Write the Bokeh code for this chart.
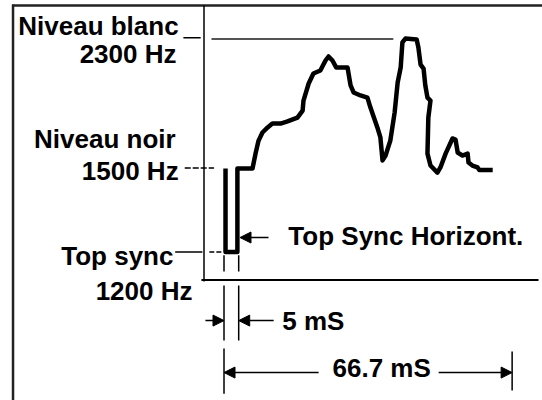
from bokeh.plotting import figure
from bokeh.models import Range1d, ColumnDataSource, Arrow, NormalHead
from bokeh.core.properties import value
from bokeh.embed import file_html
from bokeh.resources import INLINE

# ---------------- data (time in ms from start of sync, level in % : 0 = sync, 100 = white)
signal_t = [0.35, 0.35, 3.1, 3.1, 6.6, 7.3, 8.0, 8.9, 10.1, 11.2, 13.1, 14.7, 17.0, 18.2,
            18.4, 19.6, 20.7, 22.3, 23.5, 24.2, 25.1, 26.0, 28.6, 29.3, 30.0, 31.6, 33.2,
            33.9, 35.5, 36.2, 36.7, 37.4, 38.5, 39.5, 40.2, 40.9, 41.3, 42.0, 44.6, 45.0,
            45.5, 46.2, 46.6, 47.1, 47.8, 47.3, 47.1, 47.8, 49.4, 50.1, 51.3, 52.9, 53.6,
            54.1, 55.2, 56.4, 56.6, 57.5, 58.7, 59.1, 62.2]
signal_level = [39.2, 0.0, 0.0, 39.2, 39.2, 46.2, 52.3, 56.1, 58.5, 60.3, 60.3, 61.3, 63.1, 66.4,
                71.1, 79.1, 83.8, 85.2, 89.9, 91.8, 89.9, 86.6, 86.6, 78.2, 74.9, 73.5, 72.5,
                67.8, 58.5, 53.8, 43.0, 45.3, 52.3, 65.5, 79.6, 86.6, 98.4, 100.2, 99.8, 96.0,
                88.0, 86.1, 78.2, 72.5, 71.1, 63.1, 46.2, 40.6, 37.3, 39.7, 46.2, 53.3, 52.8,
                46.7, 45.3, 46.2, 42.0, 40.6, 39.7, 38.5, 38.5]

level_names = ["Niveau blanc", "Niveau noir", "Top sync"]
level_freqs = ["2300 Hz", "1500 Hz", "1200 Hz"]
white_level = 100.0
black_level = 39.4
sync_level = 0.0
sync_end_ms = 3.4
line_period_ms = 66.7
sync_label = "Top Sync Horizont."
sync_width_label = "5 mS"
line_period_label = "66.7 mS"

# ---------------- layout / style
FONT = value("Liberation Sans")
FSIZE = value("26px")
INK = "black"
X0, X1 = -51.74, 73.73
Y0, Y1 = -69.72, 118.08
AXIS_T = -4.63
AXIS_L = -13.1
TOP_L = 115.7
LEFT_T = -48.84
TXT_DY = 4.4   # baseline correction for the text glyphs

p = figure(width=542, height=400, x_range=Range1d(X0, X1), y_range=Range1d(Y0, Y1),
           output_backend="svg", toolbar_location=None, title=None, min_border=0,
           x_axis_type=None, y_axis_type=None, outline_line_color=None,
           background_fill_color="white", border_fill_color="white")

# outer frame (left and top)
p.line(x=[LEFT_T, LEFT_T], y=[Y0 - 2, TOP_L + 0.5], line_width=2.5, line_color="#222222")
p.line(x=[LEFT_T - 0.2, X1 + 2], y=[TOP_L, TOP_L], line_width=2.5, line_color="#222222")

# axes
p.line(x=[AXIS_T, AXIS_T], y=[TOP_L, AXIS_L - 0.7], line_width=1.5, line_color=INK)
p.line(x=[AXIS_T - 0.6, 72.8], y=[AXIS_L, AXIS_L], line_width=2, line_color=INK)

# level reference lines
p.segment(x0=[-9.4], y0=[white_level + 0.6], x1=[-5.4], y1=[white_level + 0.6],
          line_width=1.5, line_color=INK)
p.segment(x0=[-2.9], y0=[white_level], x1=[39.2], y1=[white_level],
          line_width=2, line_color="#555555")
p.segment(x0=[-9.1], y0=[black_level], x1=[-2.3], y1=[black_level],
          line_width=1.5, line_color=INK, line_dash="6 2")
p.segment(x0=[-11.3], y0=[sync_level], x1=[-5.0], y1=[sync_level],
          line_width=1.5, line_color=INK)
p.segment(x0=[-3.4], y0=[sync_level], x1=[-0.4], y1=[sync_level],
          line_width=1.5, line_color=INK, line_dash="5 2")

# extension lines for dimensions
p.segment(x0=[0, sync_end_ms, 0, sync_end_ms, 0, line_period_ms],
          y0=[-1.5, -1.5, -15.7, -15.7, -45.3, -46.7],
          x1=[0, sync_end_ms, 0, sync_end_ms, 0, line_period_ms],
          y1=[-9.2, -9.2, -41.5, -41.5, -66.5, -65.0],
          line_width=1.5, line_color=INK)

# signal
p.line(signal_t, signal_level, line_width=4.5, line_color=INK, line_join="round")

# arrows
def head():
    return NormalHead(size=11, fill_color=INK, line_color=INK, line_width=1)

for xs, ys, xe, ye in [(-4.3, -32.2, 0, -32.2), (11.5, -32.2, sync_end_ms, -32.2),
                       (21.9, -56.6, 0, -56.6), (49.7, -56.6, line_period_ms, -56.6),
                       (10.3, 6.8, sync_end_ms + 0.3, 6.8)]:
    p.add_layout(Arrow(end=head(), x_start=xs, y_start=ys, x_end=xe, y_end=ye,
                       line_width=1.5, line_color=INK))

# labels on the left (right aligned)
left_y = [101.6, 88.5, 48.6, 33.6, -6.3, -22.8]
left_src = ColumnDataSource(dict(
    x=[-10.5, -11.0, -11.2, -10.5, -11.7, -7.3],
    y=[v + TXT_DY for v in left_y],
    text=[level_names[0], level_freqs[0], level_names[1], level_freqs[1],
          level_names[2], level_freqs[2]]))
p.text(x="x", y="y", text="text", source=left_src, text_font=FONT, text_font_size=FSIZE,
       text_font_style="bold", text_align="right", text_baseline="alphabetic", text_color=INK)

p.text(x=[14.9, 13.5], y=[3.1 + TXT_DY, -36.9 + TXT_DY], text=[sync_label, sync_width_label],
       text_font=FONT, text_font_size=FSIZE, text_font_style="bold", text_align="left",
       text_baseline="alphabetic", text_color=INK)
p.text(x=[36.5], y=[-58.9 + TXT_DY], text=[line_period_label], text_font=FONT,
       text_font_size=FSIZE, text_font_style="bold", text_align="center",
       text_baseline="alphabetic", text_color=INK)

open("out.html", "w").write(file_html(p, INLINE))
